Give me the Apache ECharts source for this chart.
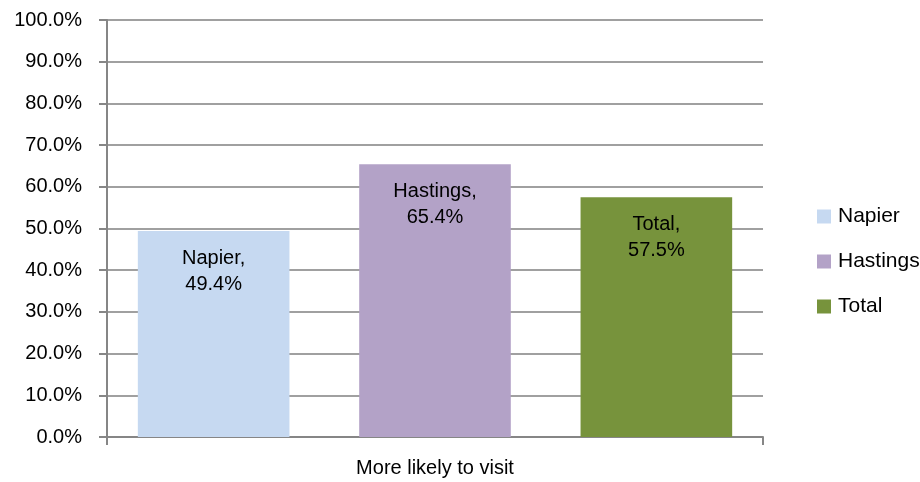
<!DOCTYPE html>
<html>
<head>
<meta charset="utf-8">
<script src="https://cdn.jsdelivr.net/npm/echarts@6/dist/echarts.min.js"></script>
<style>html,body{margin:0;padding:0;background:#fff}#c{width:920px;height:482px}</style>
</head>
<body>
<div id="c"></div>
<script>
const categories = ['More likely to visit'];
const seriesNames = ['Napier', 'Hastings', 'Total'];
const napier = [0.494];
const hastings = [0.654];
const total = [0.575];
const colors = ['#C6D9F1', '#B3A2C7', '#77933C'];
const seriesData = [napier, hastings, total];

const FONT = '"Liberation Sans", Arial, sans-serif';
const chart = echarts.init(document.getElementById('c'));
chart.setOption({
  animation: false,
  textStyle: { fontFamily: FONT },
  grid: { left: 107, right: 157, top: 20, bottom: 45 },
  legend: {
    orient: 'vertical',
    left: 812,
    top: 201,
    itemWidth: 14,
    itemHeight: 14,
    itemGap: 24,
    icon: 'rect',
    textStyle: { fontSize: 21, color: '#000', fontFamily: FONT, padding: [0, 0, 0, 2] },
    data: seriesNames
  },
  xAxis: {
    type: 'category',
    data: categories,
    axisLine: { lineStyle: { color: '#868686', width: 2 } },
    axisTick: { show: true, length: 8, lineStyle: { color: '#868686', width: 2 } },
    axisLabel: { color: '#000', fontSize: 20, margin: 21, fontFamily: FONT }
  },
  yAxis: {
    type: 'value',
    min: 0, max: 1, interval: 0.1,
    axisLine: { show: true, lineStyle: { color: '#868686', width: 2 } },
    axisTick: { show: true, length: 8, lineStyle: { color: '#868686', width: 2 } },
    splitLine: { lineStyle: { color: '#a0a0a0', width: 2 } },
    axisLabel: { color: '#000', fontSize: 20, margin: 25, fontFamily: FONT,
      formatter: v => (v * 100).toFixed(1) + '%' }
  },
  series: seriesNames.map((n, i) => ({
    name: n,
    type: 'bar',
    data: seriesData[i],
    barGap: '46%',
    barCategoryGap: '9.4%',
    itemStyle: { color: colors[i] },
    label: {
      show: true,
      position: 'insideTop',
      distance: 14,
      color: '#000',
      fontSize: 20,
      lineHeight: 26,
      fontFamily: FONT,
      formatter: p => p.seriesName + ',\n' + (p.value * 100).toFixed(1) + '%'
    }
  }))
});
</script>
</body>
</html>
